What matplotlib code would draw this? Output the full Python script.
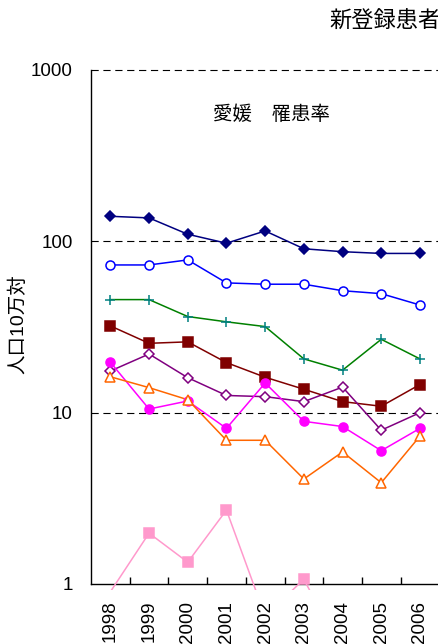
import numpy as np
import matplotlib
matplotlib.use("Agg")
import matplotlib.pyplot as plt
from matplotlib.patches import Rectangle

plt.rcParams['font.family'] = ['Liberation Sans', 'Noto Sans CJK JP']

years = ['1998', '1999', '2000', '2001', '2002', '2003', '2004', '2005', '2006']

# values (per 100k population)
navy_d = [140, 137, 110, 97.5, 115, 90.5, 87, 85, 85]
blue_o = [72.8, 72.8, 77.9, 57.2, 56.2, 56.2, 51.5, 49.5, 42.5]
green_p = [45.7, 45.7, 36.4, 33.9, 31.8, 20.6, 17.7, 26.8, 20.6]
maroon_s = [32.1, 25.4, 25.9, 19.6, 16.1, 13.7, 11.6, 10.9, 14.6]
purple_d = [17.5, 22.0, 16.0, 12.6, 12.4, 11.6, 14.1, 7.9, 10.0]
magenta_o = [19.7, 10.5, 11.7, 8.1, 14.9, 8.9, 8.3, 6.0, 8.1]
orange_t = [16.2, 14.0, 11.9, 6.9, 6.9, 4.1, 5.9, 3.9, 7.3]
pink_s = [0.9, 1.98, 1.34, 2.7, 0.65, 1.065, 0.4, np.nan, np.nan]

series = [
    (navy_d, '#000080', '#000080', 'D', 5, '#000080'),
    (blue_o, '#0000FF', '#0000FF', 'o', 6.5, 'white'),
    (green_p, '#008000', '#008080', '+', 7.5, '#008080'),
    (maroon_s, '#800000', '#800000', 's', 6.5, '#800000'),
    (purple_d, '#800080', '#800080', 'D', 5, 'white'),
    (magenta_o, '#FF00FF', '#FF00FF', 'o', 6.5, '#FF00FF'),
    (orange_t, '#FF6600', '#FF6600', '^', 7, 'white'),
    (pink_s, '#FF99CC', '#FF99CC', 's', 6.5, '#FF99CC'),
]

W, H = 438, 644
fig = plt.figure(figsize=(W / 100, H / 100), dpi=100)
ax_left, ax_bottom, ax_top = 91, 584, 70
slot = 38.7
ax = fig.add_axes([ax_left / W, (H - ax_bottom) / H, 10 * slot / W, (ax_bottom - ax_top) / H])
ax.set_yscale('log')
ax.set_ylim(1, 1000)
ax.set_xlim(-0.5, 9.5)

x = np.arange(len(years))
# lines are clipped a few pixels below the axis, markers at the axis
clip = Rectangle((0, -6 / (ax_bottom - ax_top)), 1, 1 + 6 / (ax_bottom - ax_top),
                 transform=ax.transAxes)
for vals, lc, mc, mk, ms, mfc in series:
    line, = ax.plot(x, vals, color=lc, lw=1.1, zorder=3)
    line.set_clip_path(clip)
    ax.plot(x, vals, ls='none', marker=mk, ms=ms, mec=mc, mfc=mfc, mew=1.1, zorder=4)

for yv in [10, 100, 1000]:
    ax.axhline(yv, color='black', lw=0.8, dashes=(6.5, 4.2), zorder=1, clip_on=False)

for s in ['top', 'right']:
    ax.spines[s].set_visible(False)
ax.spines['left'].set_linewidth(1.0)
ax.spines['bottom'].set_linewidth(1.0)

ax.set_yticks([1, 10, 100, 1000])
ax.set_yticklabels(['1', '10', '100', '1000'])
ax.yaxis.set_minor_locator(matplotlib.ticker.NullLocator())
ax.tick_params(axis='y', length=0, pad=13, labelsize=13.5)

ax.set_xticks(x)
ax.set_xticklabels(years, rotation=90, va='top')
ax.set_xticks(np.arange(0.5, 9.5, 1), minor=True)
ax.tick_params(axis='x', which='major', length=0, pad=12, labelsize=13.5)
ax.tick_params(axis='x', which='minor', direction='in', length=5, width=1.0)

# title runs off the right edge, as in the cropped original
fig.text(329 / W, 1 - 22.5 / H, '新登録患者', fontsize=16, ha='left', va='center')
fig.text(271.5 / W, 1 - 115 / H, '愛媛\u3000罹患率', fontsize=14, ha='center', va='center')
fig.text(18 / W, 1 - 324 / H, '人口10万対', fontsize=14, rotation=90, ha='center', va='center')

fig.savefig('out.png', dpi=100)
